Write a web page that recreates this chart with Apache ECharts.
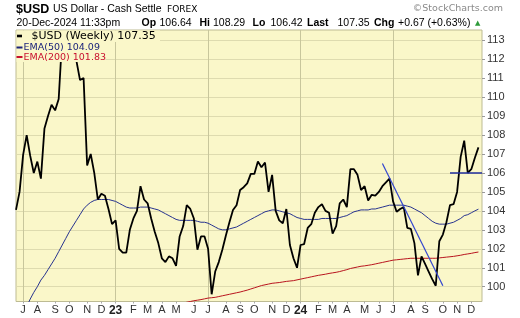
<!DOCTYPE html>
<html><head><meta charset="utf-8">
<script src="https://cdn.jsdelivr.net/npm/echarts@6/dist/echarts.min.js"></script>
<style>html,body{margin:0;padding:0;background:#fff}#c{width:520px;height:318px}</style>
</head><body><div id="c"></div><script>
// ---- data ----
const firstWeekEnd = [2022, 5, 24]; // Friday 24-Jun-2022 (weekly bars, Friday close)
const weekCount = 131;
const usdClose = [
104.05,105.0,106.95,108.0,106.9,106.0,106.6,105.7,108.35,109.0,
109.6,109.3,109.9,113.2,112.1,112.8,113.3,111.9,110.9,111.0,
106.4,107.0,106.0,104.6,104.9,104.8,104.1,103.3,103.5,102.0,
101.8,101.8,103.0,103.6,104.0,105.3,104.6,104.4,103.6,102.9,
102.3,101.5,101.3,101.6,101.5,101.1,102.65,103.2,104.3,104.1,
103.6,101.95,102.65,102.65,102.0,99.6,100.8,101.3,101.95,102.7,
103.4,104.05,104.3,105.1,105.25,105.45,105.95,105.95,106.6,106.3,
106.55,105.0,105.9,104.0,103.5,103.35,104.1,102.2,101.5,101.0,
102.2,102.25,103.1,103.3,103.9,104.2,104.35,104.0,103.9,102.8,
103.2,104.4,104.6,104.2,106.2,106.2,105.9,105.1,105.3,104.55,
104.85,104.8,105.0,105.3,105.5,105.7,104.5,103.95,104.1,104.2,
103.1,103.05,102.3,100.6,101.6,101.2,100.8,100.4,100.05,102.4,
102.75,103.4,104.3,104.35,105.0,106.85,107.7,106.0,106.2,106.8,
107.35];
const ema50 = [
97.9,98.25,98.55,98.95,99.35,99.7,100.0,100.35,100.6,100.9,
101.2,101.5,101.85,102.2,102.55,102.9,103.2,103.5,103.8,104.1,
104.3,104.45,104.55,104.6,104.6,104.6,104.6,104.55,104.5,104.4,
104.3,104.2,104.15,104.15,104.15,104.2,104.2,104.2,104.15,104.1,
104.05,103.95,103.85,103.75,103.65,103.55,103.5,103.5,103.5,103.5,
103.5,103.45,103.4,103.4,103.35,103.25,103.15,103.05,103.0,103.0,
103.05,103.1,103.15,103.25,103.35,103.45,103.55,103.65,103.75,103.85,
103.95,104.0,104.05,104.05,104.0,103.95,103.9,103.85,103.75,103.65,
103.6,103.55,103.55,103.55,103.55,103.55,103.6,103.6,103.6,103.6,
103.6,103.65,103.7,103.75,103.85,103.95,104.0,104.05,104.05,104.05,
104.1,104.1,104.15,104.2,104.25,104.3,104.3,104.3,104.3,104.3,
104.25,104.2,104.1,104.0,103.9,103.75,103.6,103.45,103.35,103.3,
103.3,103.3,103.35,103.4,103.5,103.6,103.75,103.8,103.9,104.0,
104.09];
const ema200 = [
null,null,null,null,null,null,null,null,null,null,
null,null,null,null,null,null,null,null,null,null,
null,null,null,null,null,null,null,null,null,null,
null,null,null,null,null,null,null,null,null,null,
null,null,null,null,null,null,99.10,99.14,99.18,99.22,
99.26,99.29,99.32,99.36,99.40,99.42,99.44,99.48,99.52,99.56,
99.60,99.64,99.68,99.72,99.77,99.82,99.88,99.94,100.0,100.06,
100.1,100.14,100.18,100.2,100.22,100.25,100.28,100.3,100.32,100.36,
100.4,100.44,100.48,100.52,100.56,100.6,100.63,100.66,100.7,100.73,
100.76,100.8,100.85,100.9,100.96,101.0,101.04,101.08,101.1,101.13,
101.16,101.2,101.24,101.28,101.32,101.36,101.4,101.42,101.44,101.46,
101.48,101.5,101.5,101.5,101.5,101.5,101.5,101.5,101.5,101.52,
101.54,101.56,101.58,101.6,101.63,101.66,101.7,101.73,101.76,101.8,
101.83];
const yTicks = [100,101,102,103,104,105,106,107,108,109,110,111,112,113];
const monthLetters = ['J','F','M','A','M','J','J','A','S','O','N','D'];
const trendLine = [[103, 106.5], [120, 100.05]];
const supportLine = [[122, 106.0], [131, 106.0]];
const header = {
  symbol: '$USD', name: 'US Dollar - Cash Settle', exch: 'FOREX',
  stamp: '20-Dec-2024 11:33pm', op: '106.64', hi: '108.29', lo: '106.42', last: '107.35', chg: '+0.67 (+0.63%)'
};

// ---- categories (weekly dates) ----
const DAY = 86400000;
const weekEnds = [];
for (let i = 0; i < weekCount; i++) {
  weekEnds.push(new Date(Date.UTC(firstWeekEnd[0], firstWeekEnd[1], firstWeekEnd[2]) + i * 7 * DAY));
}
const categories = weekEnds.map(d => d.toISOString().slice(0, 10)).concat(['']);
const marks = categories.map((c, i) => {
  if (i < 1 || i >= weekCount) return null;
  const mon = new Date(weekEnds[i].getTime() - 4 * DAY);
  const pmon = new Date(weekEnds[i - 1].getTime() - 4 * DAY);
  if (mon.getUTCMonth() === pmon.getUTCMonth()) return null;
  return { m: mon.getUTCMonth(), y: mon.getUTCFullYear() };
});

const BG = '#FAF7C9';
const SANS = '"Liberation Sans", Arial, sans-serif';
const VERD = '"DejaVu Sans", Verdana, sans-serif';

const chart = echarts.init(document.getElementById('c'), null, { renderer: 'canvas' });
const mlStyle = { color: '#3346CF', width: 1.2, type: 'solid' };
const hlStyle = { color: '#1F2C9C', width: 1.6, type: 'solid' };

function txt(text, x, y, font, fill, extra) {
  return { type: 'text', z: 101, style: Object.assign({ text, x, y, font, fill: fill || '#000', verticalAlign: 'middle' }, extra || {}) };
}

const option = {
  animation: false,
  grid: { left: 16, right: 38, top: 30, bottom: 16.5, show: true, backgroundColor: BG, borderColor: '#BDBB93', borderWidth: 1 },
  xAxis: {
    type: 'category', data: categories, boundaryGap: false,
    axisLine: { show: false },
    axisTick: { show: true, length: 2, interval: i => !!marks[i], lineStyle: { color: '#aaa' } },
    axisLabel: {
      interval: i => !!marks[i], margin: 3, color: '#333', fontSize: 11, fontFamily: SANS,
      formatter: (v, i) => { const mk = marks[i]; if (!mk) return ''; return mk.m === 0 ? '{y|' + String(mk.y).slice(2) + '}' : monthLetters[mk.m]; },
      rich: { y: { fontWeight: 'bold', fontSize: 12, fontFamily: SANS, color: '#222' } }
    },
    splitLine: { show: true, interval: i => !!marks[i] && (marks[i].m === 0 || marks[i].m === 6), lineStyle: { color: '#C8C69C', width: 1 } }
  },
  yAxis: {
    type: 'value', position: 'right', min: 99.22, max: 113.54, scale: true,
    axisLine: { show: false },
    axisTick: { show: true, length: 3, customValues: yTicks, lineStyle: { color: '#999' } },
    axisLabel: { customValues: yTicks, margin: 5, color: '#333', fontSize: 11, fontFamily: SANS },
    splitLine: { show: true, lineStyle: { color: '#DEDBAF', width: 1 } }
  },
  series: [
    { name: 'EMA(200)', type: 'line', data: ema200, symbol: 'none', lineStyle: { color: '#B8141E', width: 1 }, z: 2 },
    { name: 'EMA(50)', type: 'line', data: ema50, symbol: 'none', lineStyle: { color: '#27338F', width: 1 }, z: 2 },
    { name: '$USD', type: 'line', data: usdClose, symbol: 'none', lineStyle: { color: '#000', width: 1.8 }, z: 3, clip: false,
      markLine: {
        silent: true, symbol: ['none', 'none'], label: { show: false },
        data: [
          [{ coord: trendLine[0], lineStyle: mlStyle }, { coord: trendLine[1] }],
          [{ coord: supportLine[0], lineStyle: hlStyle }, { coord: supportLine[1] }]
        ]
      } }
  ],
  graphic: [
    // legend boxes
    { type: 'rect', z: 100, shape: { x: 16.5, y: 30.5, width: 143.5, height: 11.5 }, style: { fill: BG } },
    { type: 'rect', z: 100, shape: { x: 16.5, y: 42, width: 89, height: 20 }, style: { fill: BG } },
    { type: 'line', z: 101, shape: { x1: 17, y1: 36, x2: 22, y2: 36 }, style: { stroke: '#000', lineWidth: 2.6 } },
    txt('$USD (Weekly) ' + usdClose[usdClose.length - 1].toFixed(2), 31.5, 36.5, '11px ' + VERD, '#000'),
    { type: 'line', z: 101, shape: { x1: 16.5, y1: 47.5, x2: 22.5, y2: 47.5 }, style: { stroke: '#1B237A', lineWidth: 2 } },
    txt('EMA(50) ' + ema50[ema50.length - 1].toFixed(2), 23.5, 48, '9.5px ' + VERD, '#1B237A'),
    { type: 'line', z: 101, shape: { x1: 16.5, y1: 57, x2: 22.5, y2: 57 }, style: { stroke: '#C8102E', lineWidth: 2 } },
    txt('EMA(200) ' + ema200[ema200.length - 1].toFixed(2), 23.5, 57.5, '9.5px ' + VERD, '#C8102E'),
    // header line 1
    txt(header.symbol, 16, 9.5, 'bold 12.5px ' + SANS),
    txt(header.name, 53, 9.5, '10.5px ' + SANS),
    txt(header.exch, 167, 10, '9px ' + VERD),
    txt('\u00A9StockCharts.com', 503, 9, '9.5px ' + VERD, '#8A8A8A', { align: 'right' }),
    // header line 2
    txt(header.stamp, 16.5, 23, '10.5px ' + SANS),
    txt('Op', 141.5, 23, 'bold 10.5px ' + SANS),
    txt(header.op, 159.5, 23, '10.5px ' + SANS),
    txt('Hi', 199.5, 23, 'bold 10.5px ' + SANS),
    txt(header.hi, 213, 23, '10.5px ' + SANS),
    txt('Lo', 252.5, 23, 'bold 10.5px ' + SANS),
    txt(header.lo, 270.5, 23, '10.5px ' + SANS),
    txt('Last', 307, 23, 'bold 10.5px ' + SANS),
    txt(header.last, 337.5, 23, '10.5px ' + SANS),
    txt('Chg', 374, 23, 'bold 10.5px ' + SANS),
    txt(header.chg, 398, 23, '10.5px ' + SANS),
    txt('\u25B2', 475, 23, '7px ' + VERD, '#2E9B3A')
  ]
};
chart.setOption(option);
</script></body></html>
